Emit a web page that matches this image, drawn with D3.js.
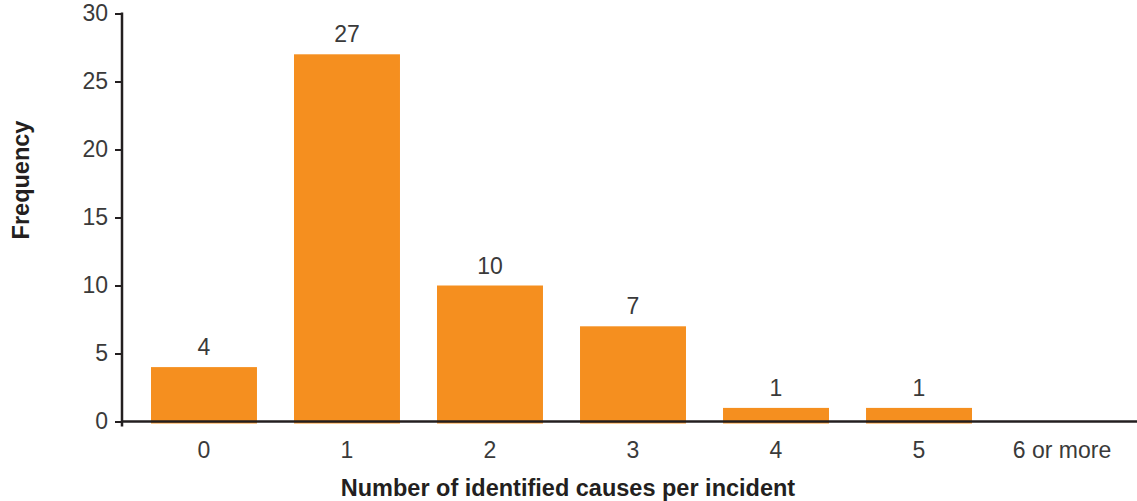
<!DOCTYPE html>
<html>
<head>
<meta charset="utf-8">
<script src="https://cdn.jsdelivr.net/npm/d3@7"></script>
<style>
  html, body { margin: 0; padding: 0; background: #fff; }
  svg { display: block; }
  text { font-family: "Liberation Sans", Arial, sans-serif; }
</style>
</head>
<body>
<svg id="chart" width="1137" height="501"></svg>
<script>
// Number of identified causes per incident vs. frequency
const categories = ["0", "1", "2", "3", "4", "5", "6 or more"];
const frequency = [4, 27, 10, 7, 1, 1, 0];
const yTicks = [0, 5, 10, 15, 20, 25, 30];

const svg = d3.select("#chart");
const W = 1137, H = 501;
const axisX = 122, yTop = 13.5, yBottom = 421.5;

const x = d3.scaleBand()
  .domain(categories)
  .range([122.4, 1143.6])
  .paddingInner(0.259)
  .paddingOuter(0.2);

const y = d3.scaleLinear().domain([0, 30]).range([yBottom, yTop]);

const textColor = "#3a3a3a";
const axisColor = "#231f20";
const tickFont = 23;

const rows = categories.map((c, i) => ({ c, v: frequency[i] })).filter(d => d.v > 0);

// bars
svg.append("g").selectAll("rect")
  .data(rows)
  .join("rect")
  .attr("x", d => x(d.c))
  .attr("y", d => y(d.v))
  .attr("width", x.bandwidth())
  .attr("height", d => y(0) - y(d.v) + 2)
  .attr("fill", "#f58f1f");

// value labels
svg.append("g").selectAll("text")
  .data(rows)
  .join("text")
  .attr("x", d => x(d.c) + x.bandwidth() / 2)
  .attr("y", d => y(d.v) - 12)
  .attr("text-anchor", "middle")
  .attr("font-size", tickFont)
  .attr("fill", textColor)
  .text(d => d.v);

// y axis
const yAxis = d3.axisLeft(y).tickValues(yTicks).tickSize(7).tickPadding(7);
const gy = svg.append("g").attr("transform", `translate(${axisX},0)`).call(yAxis);
gy.select(".domain").remove();
gy.selectAll(".tick line").attr("stroke", axisColor).attr("stroke-width", 2);
gy.selectAll(".tick text").attr("font-size", tickFont).attr("fill", textColor)
  .attr("font-family", "Liberation Sans, Arial, sans-serif");
gy.append("line")
  .attr("x1", 0).attr("x2", 0)
  .attr("y1", yTop - 1).attr("y2", yBottom + 5)
  .attr("stroke", axisColor).attr("stroke-width", 2.5);

// x axis
const xAxis = d3.axisBottom(x).tickSize(0).tickPadding(20);
const gx = svg.append("g").attr("transform", `translate(0,${yBottom})`).call(xAxis);
gx.select(".domain").remove();
gx.selectAll(".tick text").attr("font-size", tickFont).attr("fill", textColor)
  .attr("font-family", "Liberation Sans, Arial, sans-serif");
gx.append("line")
  .attr("x1", axisX).attr("x2", W)
  .attr("y1", 0).attr("y2", 0)
  .attr("stroke", axisColor).attr("stroke-width", 2.5);

// axis titles
svg.append("text")
  .attr("x", 568).attr("y", 496)
  .attr("text-anchor", "middle")
  .attr("font-size", 23.5).attr("font-weight", "bold")
  .attr("fill", "#231f20")
  .text("Number of identified causes per incident");

svg.append("text")
  .attr("transform", "translate(29,180) rotate(-90)")
  .attr("text-anchor", "middle")
  .attr("font-size", 23.5).attr("font-weight", "bold")
  .attr("fill", "#231f20")
  .text("Frequency");
</script>
</body>
</html>
